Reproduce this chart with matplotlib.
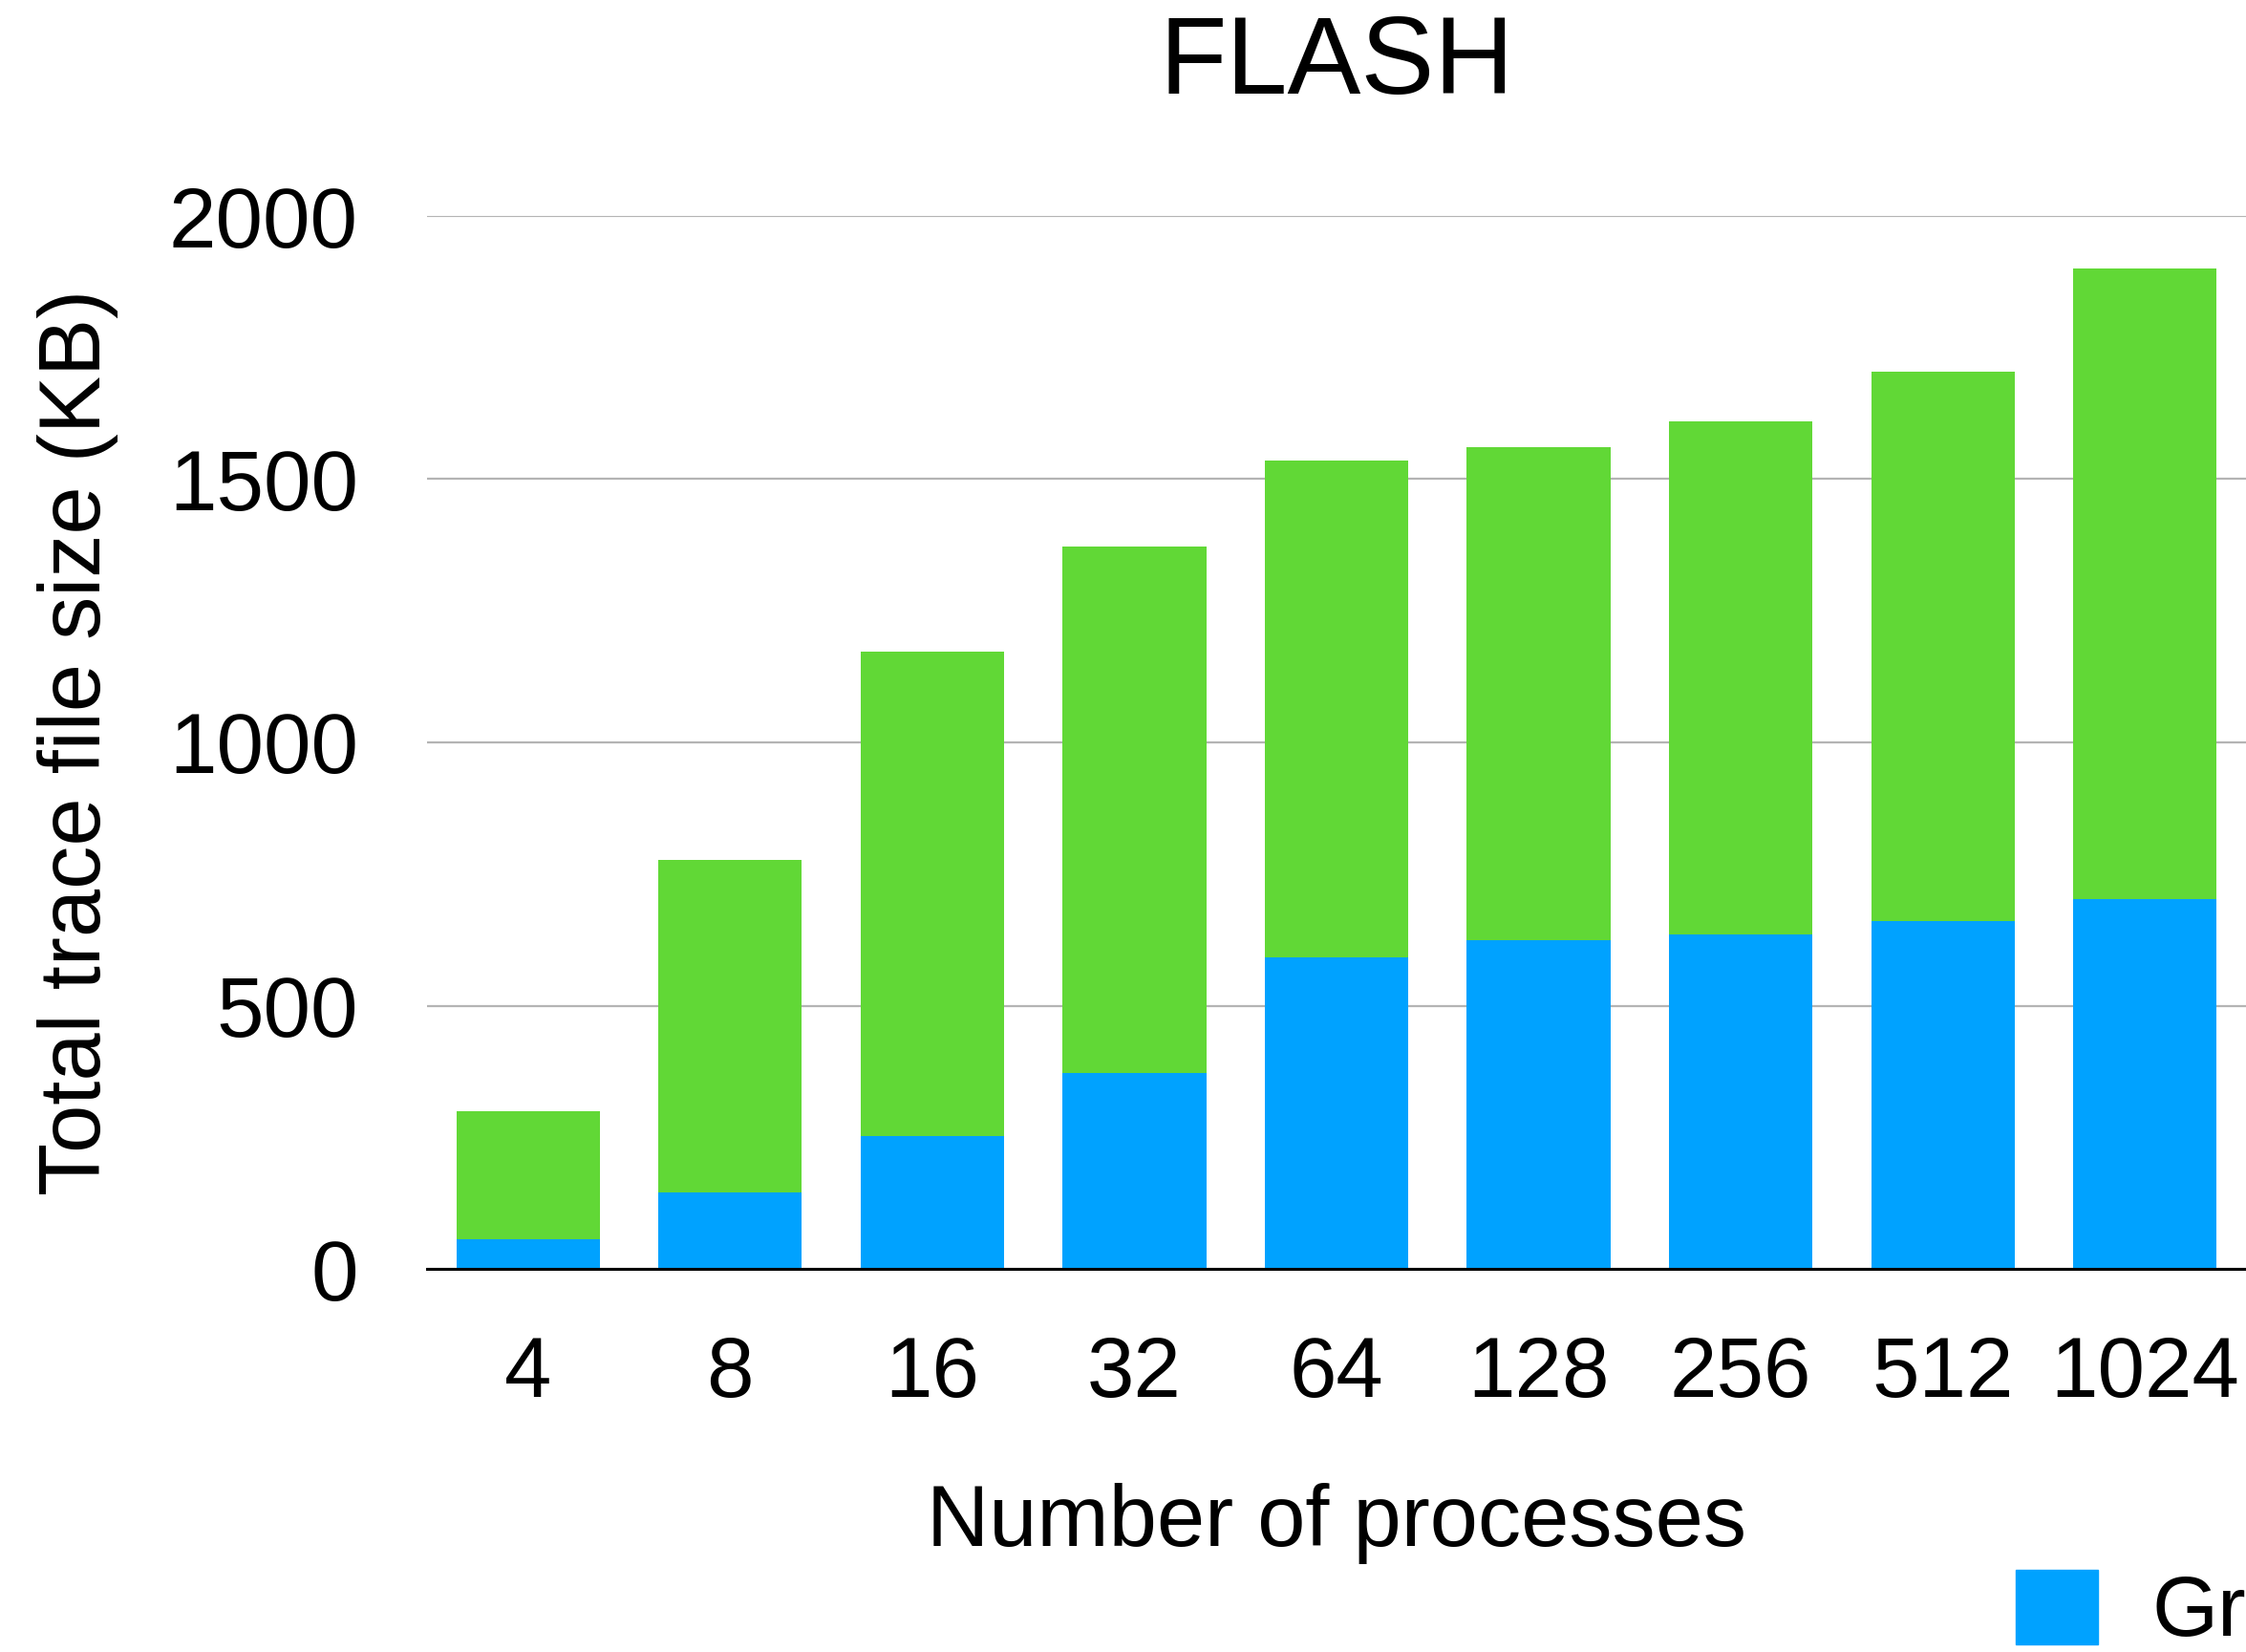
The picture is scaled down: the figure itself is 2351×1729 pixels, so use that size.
import numpy as np
import matplotlib
matplotlib.use("Agg")
import matplotlib.pyplot as plt
from matplotlib.patches import Patch

# trace size per run, split into grammar part and the rest
procs = ["4", "8", "16", "32", "64", "128", "256", "512", "1024"]
grammar_kb = [57, 145, 252, 372, 591, 625, 635, 660, 703]
total_kb = [300, 776, 1172, 1372, 1536, 1561, 1609, 1705, 1900]
cst_kb = [t - g for t, g in zip(total_kb, grammar_kb)]
yticks = [0, 500, 1000, 1500, 2000]
series_names = ["Grammar", "CST"]

blue = "#00A2FF"
green = "#61D836"

plt.rcParams["font.family"] = ["Liberation Sans", "DejaVu Sans"]

fig = plt.figure(figsize=(23.51, 17.29), dpi=100)
ax = fig.add_axes([447 / 2351, 1 - 1328 / 1729, 1904 / 2351, 1102 / 1729])

x = np.arange(len(procs))
ax.bar(x, grammar_kb, width=0.71, color=blue, zorder=2)
ax.bar(x, cst_kb, width=0.71, bottom=grammar_kb, color=green, zorder=2)

ax.set_xlim(-0.5, len(procs) - 0.5)
ax.set_ylim(0, 2000)
ax.set_yticks(yticks)
ax.set_xticks(x)
ax.set_xticklabels(procs)
ax.tick_params(axis="both", length=0, labelsize=64)
ax.tick_params(axis="y", pad=52)
ax.tick_params(axis="x", pad=50)

ax.grid(axis="y", color="#B4B4B4", linewidth=1.6)
ax.set_axisbelow(True)
for s in ["top", "right", "left"]:
    ax.spines[s].set_visible(False)
ax.spines["bottom"].set_color("black")
ax.spines["bottom"].set_linewidth(2.2)
ax.spines["bottom"].set_zorder(3)

ax.set_title("FLASH", fontsize=83, pad=92)
ax.set_xlabel("Number of processes", fontsize=65, labelpad=51)
ax.set_ylabel("Total trace file size (KB)", fontsize=65, labelpad=38)

# legend sits low on the right and runs past the figure edge
handles = [Patch(color=blue), Patch(color=green)]
fig.legend(handles, series_names, loc="upper left", ncol=2, frameon=False,
           fontsize=64, borderpad=0, borderaxespad=0,
           handlelength=0.97, handleheight=0.97, handletextpad=0.63,
           columnspacing=1.5, bbox_to_anchor=(2110 / 2351, 1 - 1643 / 1729))

fig.savefig("out.png", dpi=100)
